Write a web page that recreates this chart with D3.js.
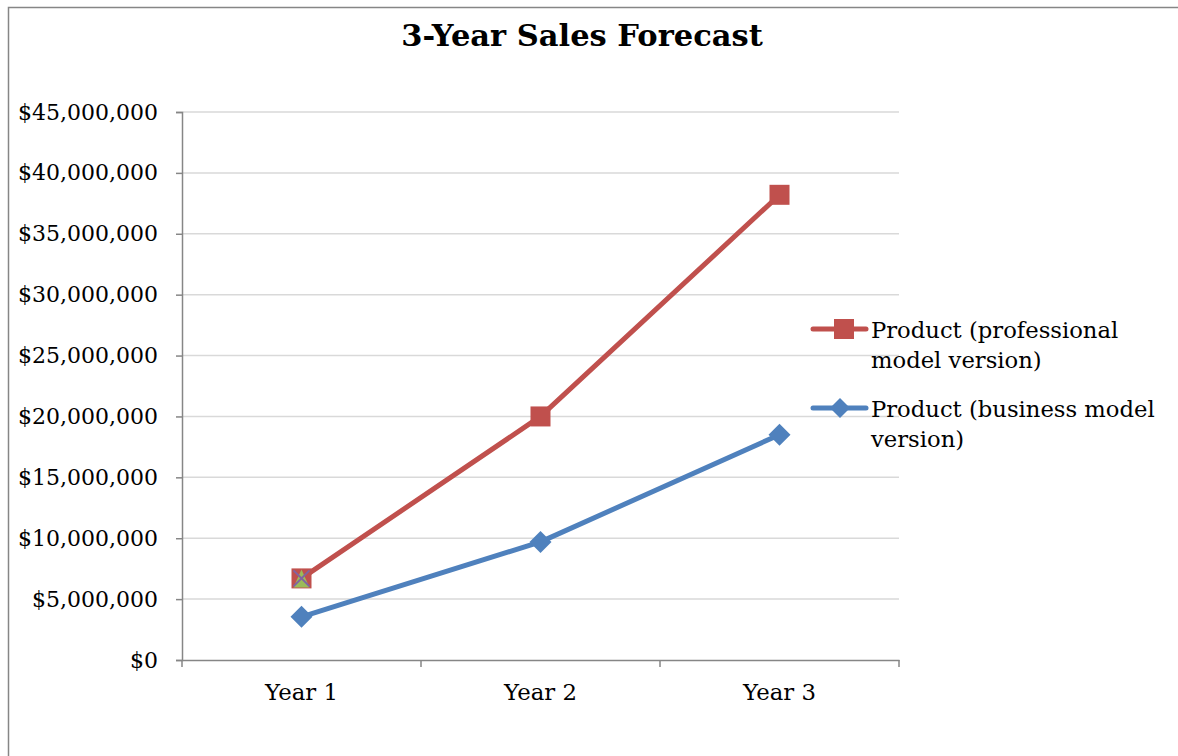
<!DOCTYPE html>
<html><head><meta charset="utf-8">
<script src="https://cdn.jsdelivr.net/npm/d3@7"></script>
<style>body{margin:0;background:#fff;}svg{display:block;}</style>
</head><body>
<svg id="c" width="1178" height="756"></svg>
<script>
const categories = ["Year 1", "Year 2", "Year 3"];
const professional = [6700000, 20000000, 38200000];
const business = [3550000, 9700000, 18500000];
const extraTriangle = [6700000];
const extraCross = [6700000];
const yTicks = [0, 5000000, 10000000, 15000000, 20000000, 25000000, 30000000, 35000000, 40000000, 45000000];
const seriesNames = ["Product (professional\nmodel version)", "Product (business model\nversion)"];

const svg = d3.select("#c");
const font = "'DejaVu Serif', serif";
// chart border
svg.append("path").attr("d","M8.5,760 L8.5,7.5 L1190,7.5").attr("fill","none").attr("stroke","#868686").attr("stroke-width",1.5);

const x0 = 182, x1 = 899, yTop = 112, yBot = 660;
const x = d3.scaleBand().domain(categories).range([x0, x1]);
const y = d3.scaleLinear().domain([0, 45000000]).range([yBot, yTop]);

svg.append("text").attr("x", 582).attr("y", 46).attr("text-anchor","middle")
  .attr("font-family", font).attr("font-weight","bold").attr("font-size", 30.5).text("3-Year Sales Forecast");

// gridlines
svg.append("g").selectAll("line").data(yTicks.filter(d=>d>0)).join("line")
  .attr("x1", x0).attr("x2", x1).attr("y1", d=>y(d)).attr("y2", d=>y(d))
  .attr("stroke","#d9d9d9").attr("stroke-width",1.5);

const fmt = d => "$" + d3.format(",")(d);
const yAxis = svg.append("g").attr("transform",`translate(${x0},0)`)
  .call(d3.axisLeft(y).tickValues(yTicks).tickFormat(fmt).tickSize(6).tickPadding(18));
yAxis.select(".domain").attr("stroke","#868686").attr("stroke-width",1.5);
yAxis.selectAll(".tick line").attr("stroke","#868686").attr("stroke-width",1.5);
yAxis.selectAll("text").attr("font-family", font).attr("font-size", 22).attr("fill","#000");

const xAxis = svg.append("g").attr("transform",`translate(0,${yBot})`)
  .call(d3.axisBottom(x).tickSize(0).tickPadding(24));
xAxis.select(".domain").attr("stroke","#868686").attr("stroke-width",1.5);
xAxis.selectAll("text").attr("font-family", font).attr("font-size", 22.8).attr("fill","#000");
const bounds = [x0].concat(categories.map(c => x(c) + x.bandwidth()));
xAxis.selectAll(".bt").data(bounds).join("line").attr("class","bt")
  .attr("x1", d=>d).attr("x2", d=>d).attr("y1", 0).attr("y2", 7)
  .attr("stroke","#868686").attr("stroke-width",1.5);

const cx = c => x(c) + x.bandwidth()/2;
const line = d3.line().x((d,i)=>cx(categories[i])).y(d=>y(d));
const red = "#c0504d", blue = "#4f81bd";

svg.append("path").datum(professional).attr("d", line).attr("fill","none").attr("stroke",red).attr("stroke-width",5).attr("stroke-linejoin","round");
svg.append("path").datum(business).attr("d", line).attr("fill","none").attr("stroke",blue).attr("stroke-width",5).attr("stroke-linejoin","round");

const sq = 20, dm = 11;
svg.append("g").selectAll("rect").data(professional).join("rect")
  .attr("x",(d,i)=>cx(categories[i])-sq/2).attr("y",d=>y(d)-sq/2).attr("width",sq).attr("height",sq).attr("fill",red);
svg.append("g").selectAll("path").data(business).join("path")
  .attr("d",(d,i)=>{const px=cx(categories[i]), py=y(d);return `M${px},${py-dm}L${px+dm},${py}L${px},${py+dm}L${px-dm},${py}Z`;})
  .attr("fill",blue);
// extra overlaid markers at Year 1
svg.append("g").selectAll("path").data(extraTriangle).join("path")
  .attr("d",(d,i)=>{const px=cx(categories[i]), py=y(d);return `M${px},${py-9}L${px+8},${py+9}L${px-8},${py+9}Z`;})
  .attr("fill","#9bbb59");
svg.append("g").selectAll("path").data(extraCross).join("path")
  .attr("d",(d,i)=>{const px=cx(categories[i]), py=y(d);return `M${px-8},${py-8}L${px+8},${py+8}M${px+8},${py-8}L${px-8},${py+8}`;})
  .attr("stroke","#8064a2").attr("stroke-width",2).attr("fill","none");

// legend
const leg = [{name:seriesNames[0], color:red, shape:"sq", y:329},{name:seriesNames[1], color:blue, shape:"dm", y:408}];
leg.forEach(l => {
  svg.append("line").attr("x1",813).attr("x2",866).attr("y1",l.y).attr("y2",l.y).attr("stroke",l.color).attr("stroke-width",5).attr("stroke-linecap","round");
  if (l.shape==="sq") svg.append("rect").attr("x",834).attr("y",l.y-10).attr("width",20).attr("height",20).attr("fill",l.color);
  else svg.append("path").attr("d",`M840,${l.y-10}L850,${l.y}L840,${l.y+10}L830,${l.y}Z`).attr("fill",l.color);
  const t = svg.append("text").attr("x",871).attr("y",l.y+9).attr("font-family",font).attr("font-size",22.7).attr("fill","#000");
  l.name.split("\n").forEach((s,i)=> t.append("tspan").attr("x",871).attr("dy", i===0?0:30).text(s));
});
</script>
</body></html>
